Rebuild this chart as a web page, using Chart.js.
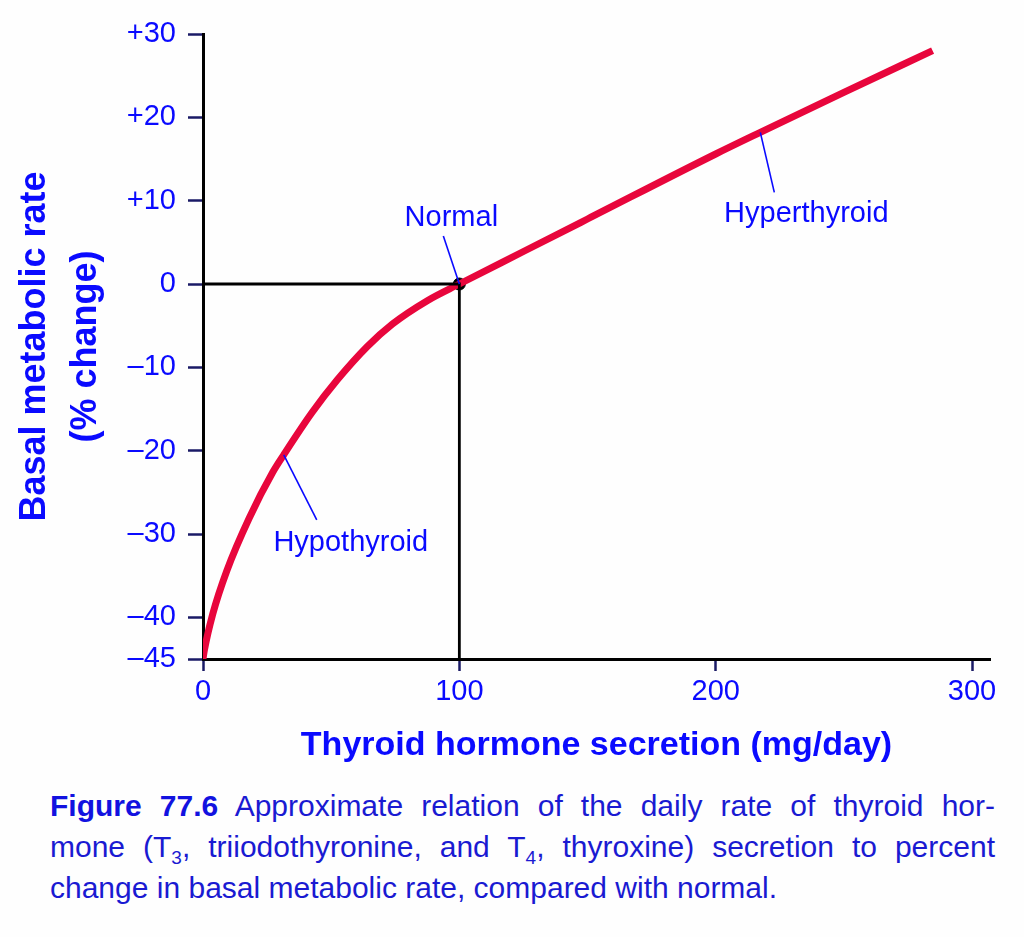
<!DOCTYPE html>
<html>
<head>
<meta charset="utf-8">
<script src="https://cdn.jsdelivr.net/npm/chart.js@4.4.1/dist/chart.umd.min.js"></script>
<style>
  body { margin: 0; background: #fefefe; }
  #wrap { position: relative; width: 1024px; height: 775px; }
  #caption {
    position: absolute; left: 50px; top: 785px; width: 945px;
    font-family: "Liberation Sans", Arial, sans-serif; font-size: 30px;
    color: #1a1ad2; line-height: 41px;
  }
  #caption div { text-align: justify; text-align-last: justify; white-space: nowrap; }
  #caption div.last { text-align-last: left; }
  #caption b { color: #1212e0; }
  #caption sub { font-size: 19px; line-height: 0; }
</style>
</head>
<body>
<div id="wrap"><canvas id="thyroidChart"></canvas></div>
<div id="caption">
  <div><b>Figure 77.6</b> Approximate relation of the daily rate of thyroid hor-</div>
  <div>mone (T<sub>3</sub>, triiodothyronine, and T<sub>4</sub>, thyroxine) secretion to percent</div>
  <div class="last">change in basal metabolic rate, compared with normal.</div>
</div>
<script>
// curve
const secretion = [0, 0.5, 3.8, 9.3, 18.0, 27.2, 31.5, 42.6, 52.4, 64.1, 73.9, 87.5, 100, 125, 150, 200, 217.4, 250, 284.6];
const bmrChange = [-45, -44, -39.6, -34.4, -28.1, -22.6, -20.5, -15.4, -11.5, -7.5, -4.8, -2.0, 0, 3.9, 7.8, 15.6, 18.2, 23.0, 28.0];

const xTicks = [0, 100, 200, 300];
const yTicks = [30, 20, 10, 0, -10, -20, -30, -40, -45];

const normalX = 100;
const normalY = 0;

const blue = '#0a0aff';
const tickColor = '#1a1a66';
const font = '"Liberation Sans", Arial, sans-serif';

// labels with leader lines: anchor on the curve, text offset in px
const callouts = [
  { text: 'Normal', i: 12, dx: -8, dy: -66, lx: -16, ly: -48 },
  { text: 'Hyperthyroid', i: 16, dx: 46, dy: 82, lx: 14, ly: 60 },
  { text: 'Hypothyroid', i: 6, dx: 67, dy: 88, lx: 33, ly: 65 }
];

const calloutPlugin = {
  id: 'callouts',
  afterDatasetsDraw(chart) {
    const ctx = chart.ctx;
    const xs = chart.scales.x, ys = chart.scales.y;
    ctx.save();
    callouts.forEach(c => {
      const px = xs.getPixelForValue(secretion[c.i]);
      const py = ys.getPixelForValue(bmrChange[c.i]);
      ctx.strokeStyle = blue;
      ctx.lineWidth = 1.6;
      ctx.beginPath();
      ctx.moveTo(px, py);
      ctx.lineTo(px + c.lx, py + c.ly);
      ctx.stroke();
      ctx.fillStyle = blue;
      ctx.font = '29px ' + font;
      ctx.textAlign = 'center';
      ctx.textBaseline = 'middle';
      ctx.fillText(c.text, px + c.dx, py + c.dy);
    });
    ctx.restore();
  }
};

function signed(v) {
  if (v > 0) return '+' + v;
  if (v < 0) return '\u2013' + Math.abs(v);
  return '0';
}

const ctx = document.getElementById('thyroidChart').getContext('2d');

new Chart(ctx, {
  type: 'line',
  data: {
    datasets: [
      {
        label: 'Normal guide',
        data: [{ x: 0, y: normalY }, { x: normalX, y: normalY }, { x: normalX, y: -45 }],
        borderColor: '#000',
        borderWidth: 2.8,
        pointRadius: 0,
        tension: 0
      },
      {
        label: 'BMR',
        data: secretion.map((s, i) => ({ x: s, y: bmrChange[i] })),
        borderColor: '#e8063c',
        borderWidth: 7,
        pointRadius: 0,
        cubicInterpolationMode: 'monotone',
        borderCapStyle: 'butt'
      },
      {
        label: 'Normal point',
        data: [{ x: normalX, y: normalY }],
        backgroundColor: '#000',
        borderColor: '#000',
        pointRadius: 6,
        showLine: false
      }
    ]
  },
  options: {
    responsive: true,
    maintainAspectRatio: false,
    animation: false,
    layout: { padding: { top: 34, right: 34, left: 0, bottom: 0 } },
    plugins: {
      legend: { display: false },
      tooltip: { enabled: false }
    },
    scales: {
      x: {
        type: 'linear',
        min: 0,
        max: 307,
        afterBuildTicks: s => { s.ticks = xTicks.map(v => ({ value: v })); },
        afterFit: s => { s.height = 116; },
        grid: { drawOnChartArea: false, drawTicks: true, tickLength: 12, tickColor: tickColor, tickWidth: 2.5 },
        border: { color: '#000', width: 3 },
        ticks: {
          color: blue,
          font: { family: font, size: 29 },
          padding: 4
        },
        title: {
          display: true,
          text: 'Thyroid hormone secretion (mg/day)',
          color: blue,
          font: { family: font, size: 34, weight: 'bold' },
          padding: { top: 4, bottom: 9 }
        }
      },
      y: {
        type: 'linear',
        min: -45,
        max: 30,
        afterBuildTicks: s => { s.ticks = yTicks.map(v => ({ value: v })); },
        afterFit: s => { s.width = 203; },
        grid: { drawOnChartArea: false, drawTicks: true, tickLength: 15, tickColor: tickColor, tickWidth: 2.5 },
        border: { color: '#000', width: 3 },
        ticks: {
          color: blue,
          font: { family: font, size: 29 },
          padding: 12,
          callback: v => signed(v)
        },
        title: {
          display: true,
          text: ['Basal metabolic rate', '(% change)'],
          color: blue,
          font: { family: font, size: 36, weight: 'bold', lineHeight: 1.4 },
          padding: { top: 10, bottom: 0 }
        }
      }
    }
  },
  plugins: [calloutPlugin]
});
</script>
</body>
</html>
